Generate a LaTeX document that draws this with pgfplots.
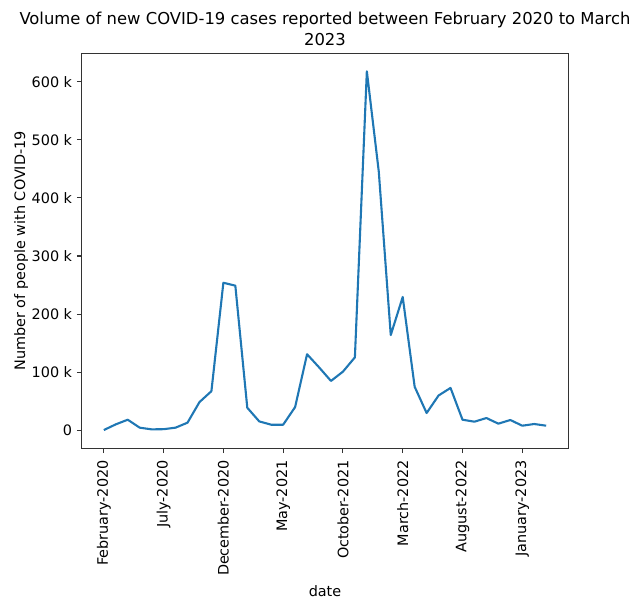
\documentclass[border=0pt]{standalone}
\usepackage{fontspec}
\setmainfont{DejaVu Sans}
\usepackage{pgfplots}
\pgfplotsset{compat=1.18}
\definecolor{mplblue}{HTML}{1F77B4}
\definecolor{spine}{HTML}{333333}
\begin{document}
\begin{tikzpicture}[x=1pt,y=1pt]
\begin{axis}[
  at={(0pt,0pt)}, anchor=south west,
  scale only axis,
  width=486.6pt, height=395pt,
  xmin=-1.85, xmax=38.85,
  ymin=-30.9, ymax=648.9,
  axis line style={spine, line width=1.1pt},
  tick style={spine, line width=1.1pt},
  tick align=outside,
  major tick length=4.9pt,
  xtick pos=bottom, ytick pos=left,
  xtick={0,5,10,15,20,25,30,35},
  xticklabels={February-2020,July-2020,December-2020,May-2021,October-2021,March-2022,August-2022,January-2023},
  ytick={0,100,200,300,400,500,600},
  yticklabels={0,100 k,200 k,300 k,400 k,500 k,600 k},
  ticklabel style={font=\fontsize{14.4}{16}\selectfont},
  xticklabel style={rotate=90, anchor=east, inner sep=7pt},
  yticklabel style={anchor=east, inner sep=4.5pt},
  /pgf/number format/assume math mode=true,
  xlabel={date},
  ylabel={Number of people with COVID-19},
  label style={font=\fontsize{14.4}{16}\selectfont},
  xlabel style={at={(axis description cs:0.5,0)}, anchor=center, yshift=-143.2pt},
  ylabel style={at={(axis description cs:0,0.5)}, anchor=center, yshift=60.5pt},
  title={Volume of new COVID-19 cases reported between February 2020 to March\\2023},
  title style={font=\fontsize{16.4}{21}\selectfont, align=center, at={(axis description cs:0.5,1)}, anchor=south, yshift=-2pt},
  clip=false,
]
\addplot[mplblue, line width=2.1pt, line join=round] table {
x y
0 0.5
1 10.3
2 18.3
3 4.6
4 1.7
5 2
6 4.6
7 13.2
8 48.6
9 67.4
10 254
11 249
12 38.9
13 15.4
14 9.7
15 9.7
16 40
17 131
18 108.5
19 85
20 101
21 125.6
22 618
23 445
24 164
25 229.5
26 75
27 29.8
28 60
29 73
30 18.3
31 14.9
32 21.2
33 11.5
34 17.8
35 8
36 10.9
37 8
};
\end{axis}
\pgfresetboundingbox
\path[use as bounding box] (-81.7pt,-153.7pt) rectangle (561.3pt,448.3pt);
\end{tikzpicture}
\end{document}
